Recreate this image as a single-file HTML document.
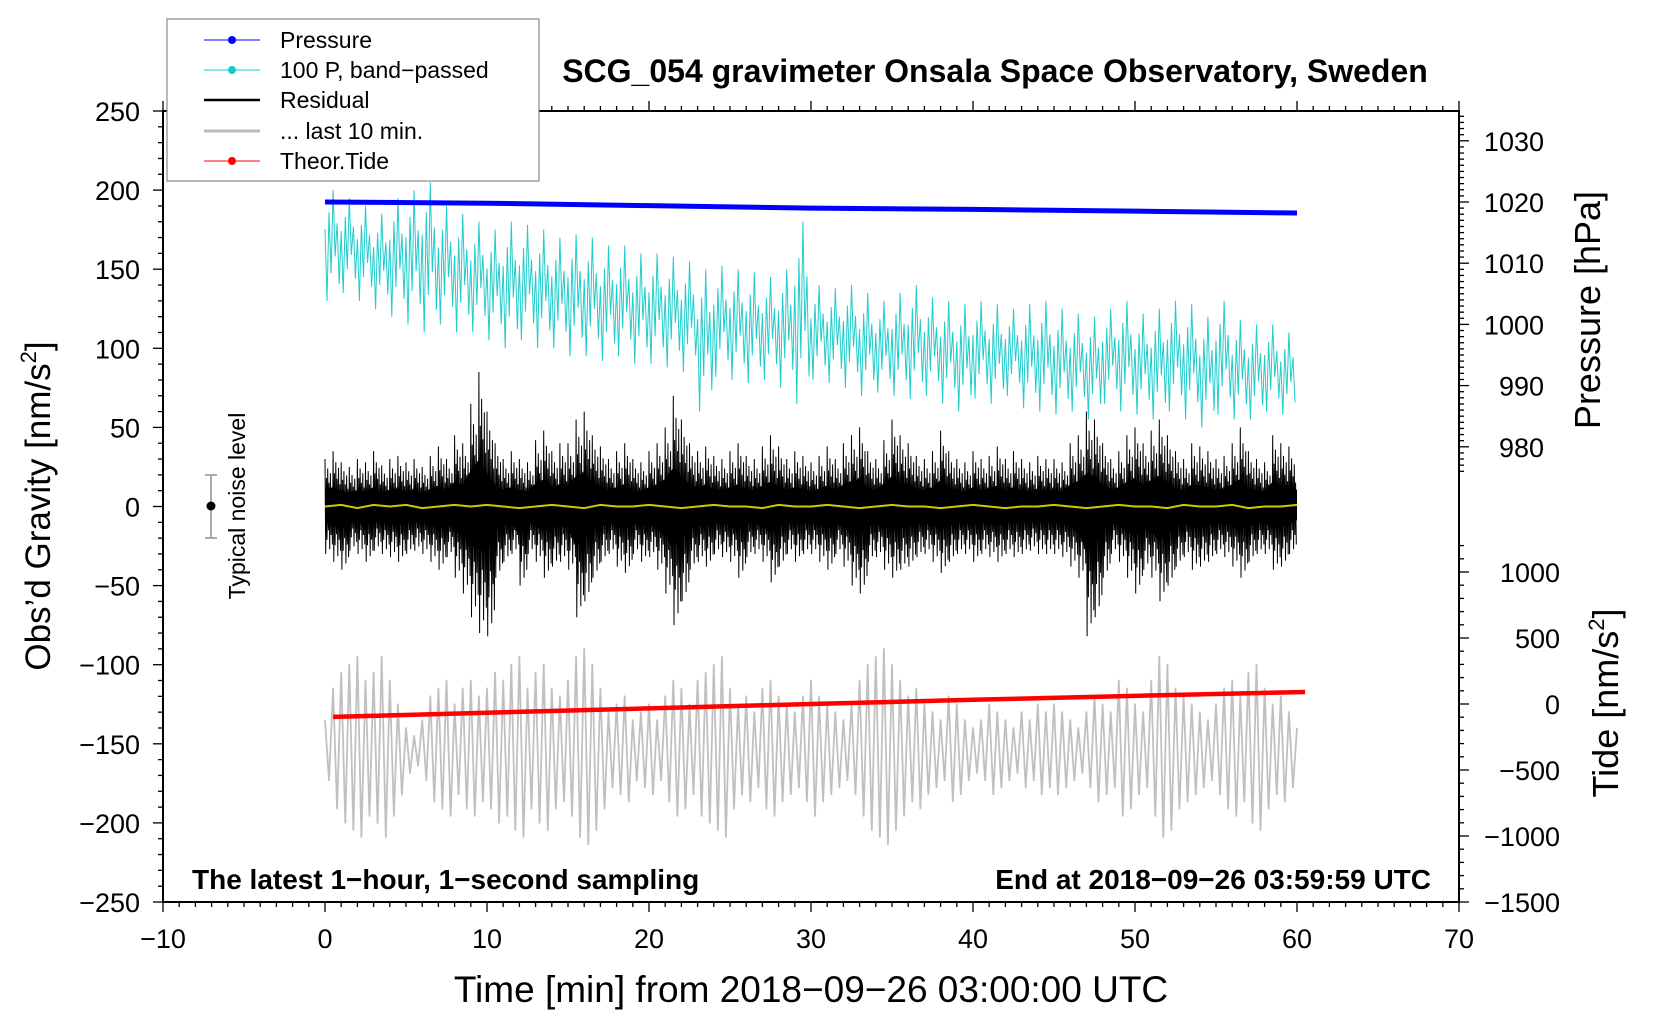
<!DOCTYPE html>
<html><head><meta charset="utf-8"><style>
html,body{margin:0;padding:0;background:#fff}
svg{display:block;font-family:"Liberation Sans",sans-serif}
</style></head><body>
<svg id="chart" width="1660" height="1020" viewBox="0 0 1660 1020" xmlns="http://www.w3.org/2000/svg">
<rect width="1660" height="1020" fill="#fff"/>
<g id="series"></g>
<g id="axes"></g>
<text x="995" y="82" font-size="32" font-weight="bold" text-anchor="middle">SCG_054 gravimeter Onsala Space Observatory, Sweden</text>
<text x="811" y="1002" font-size="37" text-anchor="middle">Time [min] from 2018−09−26 03:00:00 UTC</text>
<text transform="translate(50,506) rotate(-90)" font-size="35" text-anchor="middle">Obs’d Gravity [nm/s<tspan font-size="22" dy="-14">2</tspan><tspan dy="14">]</tspan></text>
<text transform="translate(1600,310) rotate(-90)" font-size="36" text-anchor="middle">Pressure [hPa]</text>
<text transform="translate(1618,703) rotate(-90)" font-size="36" text-anchor="middle">Tide [nm/s<tspan font-size="22" dy="-14">2</tspan><tspan dy="14">]</tspan></text>
<text x="192" y="889" font-size="28" font-weight="bold">The latest 1−hour, 1−second sampling</text>
<text x="1431" y="889" font-size="28" font-weight="bold" text-anchor="end">End at 2018−09−26 03:59:59 UTC</text>
<g>
<line x1="211" y1="475" x2="211" y2="538" stroke="#aaa" stroke-width="2"/>
<line x1="205" y1="475" x2="217" y2="475" stroke="#aaa" stroke-width="2"/>
<line x1="205" y1="538" x2="217" y2="538" stroke="#aaa" stroke-width="2"/>
<circle cx="211" cy="506" r="4.5" fill="#000"/>
<text transform="translate(245,506) rotate(-90)" font-size="23" text-anchor="middle">Typical noise level</text>
</g>
<g>
<rect x="167" y="19" width="372" height="162" fill="#fff" stroke="#888" stroke-width="1.2"/>
<g><line x1="204" y1="40" x2="260" y2="40" stroke="#00f" stroke-width="1"/><circle cx="232" cy="40" r="4" fill="#00f"/><text x="280" y="48" font-size="23">Pressure</text></g>
<g><line x1="204" y1="70" x2="260" y2="70" stroke="#1cc" stroke-width="1"/><circle cx="232" cy="70" r="4" fill="#1cc"/><text x="280" y="78" font-size="23">100 P, band−passed</text></g>
<g><line x1="204" y1="100" x2="260" y2="100" stroke="#000" stroke-width="2.5"/><text x="280" y="108" font-size="23">Residual</text></g>
<g><line x1="204" y1="131" x2="260" y2="131" stroke="#bbb" stroke-width="3"/><text x="280" y="139" font-size="23">... last 10 min.</text></g>
<g><line x1="204" y1="161" x2="260" y2="161" stroke="#f00" stroke-width="1"/><circle cx="232" cy="161" r="4" fill="#f00"/><text x="280" y="169" font-size="23">Theor.Tide</text></g>
</g>
</svg>
<script>
// ---- data ----
const resMax=[30,35,28,25,30,28,35,26,30,32, 28,30,25,32,38,30,45,40,65,85, 60,40,30,35,30,28,42,48,35,40, 40,55,60,45,38,30,35,40,30,28, 35,40,50,70,55,40,35,38,32,30, 35,40,32,30,38,45,38,30,35,32, 28,32,38,30,40,45,50,35,30,42, 55,45,40,32,30,35,48,35,30,28, 35,30,32,38,30,35,30,28,32,30, 30,28,40,45,60,55,40,30,35,45, 50,40,48,55,45,35,30,40,38,35, 30,32,40,50,35,30,28,45,40,38,30];
const resMin=[-30,-35,-40,-28,-30,-35,-28,-30,-32,-35, -30,-28,-30,-35,-40,-32,-45,-55,-70,-80, -82,-45,-35,-30,-50,-30,-35,-45,-38,-35, -40,-70,-60,-45,-35,-30,-38,-42,-30,-35, -32,-40,-55,-75,-60,-40,-35,-38,-30,-32, -35,-45,-32,-30,-35,-48,-38,-30,-35,-30, -30,-35,-40,-30,-38,-50,-55,-35,-32,-40, -45,-40,-38,-32,-30,-35,-42,-35,-30,-30, -35,-30,-32,-35,-30,-32,-30,-28,-30,-30, -30,-32,-38,-45,-82,-70,-45,-30,-35,-45, -55,-40,-45,-60,-50,-38,-32,-40,-38,-35, -30,-32,-38,-45,-35,-30,-30,-40,-38,-30,-25];
const yellowVal=[0,1,-1,1,0,1,-1,0,1,0, 1,0,-1,0,1,0,-1,1,0,0, 1,0,-1,0,1,0,0,-1,1,0, 0,1,0,-1,0,1,0,0,-1,0, 1,0,-1,0,0,1,0,-1,0,1, 0,0,-1,1,0,0,1,-1,0,0,1];
const cyanHi=[200,195,190,185,195,200,205,190,185,180, 175,180,178,175,170,172,170,165,165,160, 160,158,155,150,152,150,148,145,150,180, 140,138,140,135,130,135,140,132,130,128, 130,128,125,128,130,125,122,120,125,130, 122,125,130,128,120,130,118,115,115,110,110];
const cyanLo=[130,135,130,125,120,115,110,115,110,110, 105,100,105,100,100,95,95,92,95,90, 90,88,85,60,82,80,78,80,75,65, 80,78,75,70,72,70,68,70,65,60, 68,65,70,62,60,58,60,55,65,60, 58,55,60,55,50,58,55,55,60,58,65];
const greyAmp=[20,40,50,55,60,45,50,60,45,30, 15,10,20,35,40,45,30,40,45,35, 40,50,45,55,60,40,50,55,40,35, 45,60,65,55,40,25,30,35,20,25, 30,20,35,45,40,30,45,50,55,60, 40,30,35,25,40,45,35,30,25,35, 45,35,30,25,20,30,45,55,60,65, 55,45,35,40,30,25,20,35,30,20, 15,20,30,25,20,15,25,20,30,25, 30,25,20,15,25,35,30,25,45,40, 30,25,45,60,55,40,35,30,25,20, 30,40,45,35,50,55,40,30,35,25,15];
const greyCenter=-155;
const pressTime=[0,10,20,30,40,50,60];
const pressVal=[1020,1019.8,1019.4,1019.0,1018.8,1018.5,1018.2];
const tideTime=[0.5,10,20,30,40,50,60.5];
const tideVal=[-98,-66,-33,0,32,62,91];
const xTicks=[-10,0,10,20,30,40,50,60,70];
const yTicks=[250,200,150,100,50,0,-50,-100,-150,-200,-250];
const pTicks=[1030,1020,1010,1000,990,980];
const tTicks=[1000,500,0,-500,-1000,-1500];

// ---- axis functions ----
const X=t=>163+(t+10)*16.2;
const Y=v=>506.5-v*1.582;
const YP=p=>202-(p-1020)*6.12;
const YT=v=>704-v*0.132;
const NS='http://www.w3.org/2000/svg';
const series=document.getElementById('series');
const axes=document.getElementById('axes');
function mk(tag,parent){const e=document.createElementNS(NS,tag);parent.appendChild(e);return e;}

// cyan band-passed
let pts=[];
for(let i=0;i<cyanHi.length-1;i++){
  const mid=(cyanHi[i]+cyanLo[i])/2, r=(cyanHi[i]-cyanLo[i])/2;
  const seq=[mid+r*0.3,cyanLo[i],mid+r*0.6,mid-r*0.5,cyanHi[i],mid-r*0.2,mid+r*0.4,mid-r*0.7];
  for(let k=0;k<seq.length;k++) pts.push(X(i+k/seq.length).toFixed(1)+','+Y(seq[k]).toFixed(1));
}
let cy=mk('polyline',series);


cy.setAttribute('points',pts.join(' '));cy.setAttribute('fill','none');cy.setAttribute('stroke','#2cc');cy.setAttribute('stroke-width','1');

// pressure
pts=pressTime.map((t,i)=>X(t)+','+YP(pressVal[i]));
let pl=mk('polyline',series);


pl.setAttribute('points',pts.join(' '));pl.setAttribute('fill','none');pl.setAttribute('stroke','#00f');pl.setAttribute('stroke-width','5');

// grey last 10 min
pts=[];
for(let i=0;i<greyAmp.length;i++){
  const a=greyAmp[i];
  const seq=[a,-a*0.9];
  for(let k=0;k<seq.length;k++){const t=i*0.5+k*0.25; if(t<=60) pts.push(X(t).toFixed(1)+','+Y(greyCenter+seq[k]).toFixed(1));}
}
let gl=mk('polyline',series);


gl.setAttribute('points',pts.join(' '));gl.setAttribute('fill','none');gl.setAttribute('stroke','#c0c0c0');gl.setAttribute('stroke-width','1.8');gl.setAttribute('stroke-linejoin','round');

// residual
pts=[];
for(let i=0;i<resMax.length-1;i++){
  const hi=resMax[i],lo=resMin[i];
  const seq=[hi,lo,hi*0.6,lo*0.7,hi*0.8,lo*0.5,hi*0.5,lo*0.9,hi*0.7,lo*0.6,hi*0.4,lo*0.8];
  for(let k=0;k<seq.length;k++) pts.push(X(i*0.5+k*0.5/seq.length).toFixed(1)+','+Y(seq[k]).toFixed(1));
}
let rl=mk('polyline',series);


rl.setAttribute('points',pts.join(' '));rl.setAttribute('fill','none');rl.setAttribute('stroke','#000');rl.setAttribute('stroke-width','1');
// residual core
let core=mk('polygon',series);


let up=resMax.map((v,i)=>X(i*0.5)+','+Y(v*0.35)), dn=resMin.map((v,i)=>X(i*0.5)+','+Y(v*0.35)).reverse();
core.setAttribute('points',up.concat(dn).join(' '));core.setAttribute('fill','#000');

// yellow
pts=yellowVal.map((v,i)=>X(i)+','+Y(v));
let yl=mk('polyline',series);


yl.setAttribute('points',pts.join(' '));yl.setAttribute('fill','none');yl.setAttribute('stroke','#cc0');yl.setAttribute('stroke-width','2');

// tide
pts=tideTime.map((t,i)=>X(t)+','+YT(tideVal[i]));
let tl=mk('polyline',series);


tl.setAttribute('points',pts.join(' '));tl.setAttribute('fill','none');tl.setAttribute('stroke','#f00');tl.setAttribute('stroke-width','4.5');

// ---- axes ----
function line(x1,y1,x2,y2,w){const l=mk('line',axes);l.setAttribute('x1',x1);l.setAttribute('y1',y1);l.setAttribute('x2',x2);l.setAttribute('y2',y2);l.setAttribute('stroke','#000');l.setAttribute('stroke-width',w);return l;}
function txt(x,y,s,anchor,size){const t=mk('text',axes);t.setAttribute('x',x);t.setAttribute('y',y);t.setAttribute('font-size',size);t.setAttribute('text-anchor',anchor);t.textContent=s;return t;}
const L=X(-10),R=X(70),T=Y(250),B=Y(-250);
let frame=mk('rect',axes);


frame.setAttribute('x',L);frame.setAttribute('y',T);frame.setAttribute('width',R-L);frame.setAttribute('height',B-T);frame.setAttribute('fill','none');frame.setAttribute('stroke','#000');frame.setAttribute('stroke-width','2');
for(let t=-10;t<=70;t++){const maj=t%10===0;line(X(t),B,X(t),B+(maj?10:5),1.3);line(X(t),T,X(t),T-(maj?10:5),1.3);}
xTicks.forEach(t=>{const e=txt(X(t),948,String(t).replace('-','−'),'middle',27);

});
for(let v=-250;v<=250;v+=10){const maj=v%50===0;line(L,Y(v),L-(maj?10:5),Y(v),1.3);}
yTicks.forEach(v=>{const e=txt(140,Y(v)+10,String(v).replace('-','−'),'end',27);

});
for(let p=976;p<=1034;p++){const y=YP(p);if(y<T||y>B)continue;const maj=p%10===0;line(R,y,R+(maj?10:5),y,1.3);}
pTicks.forEach(p=>{const e=txt(1544,YP(p)+10,String(p),'end',27);

});
for(let v=-1500;v<=1200;v+=100){const y=YT(v);if(y<T||y>B||y<540)continue;const maj=v%500===0;line(R,y,R+(maj?10:5),y,1.3);}
tTicks.forEach(v=>{const e=txt(1560,YT(v)+10,String(v).replace('-','−'),'end',27);

});
</script>
</body></html>
